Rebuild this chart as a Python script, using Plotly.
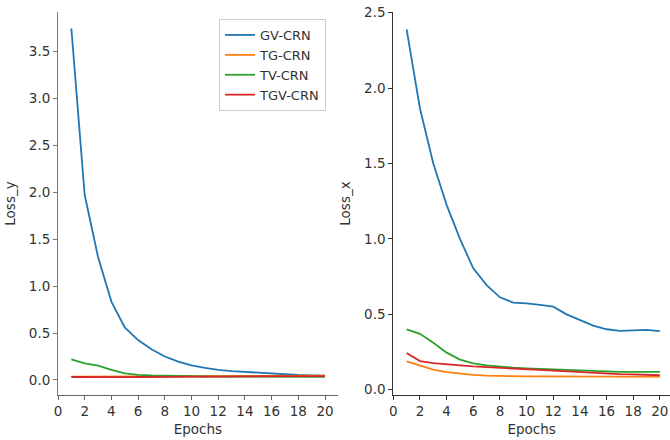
import plotly.graph_objects as go

epochs = list(range(1, 21))
series_names = ["GV-CRN", "TG-CRN", "TV-CRN", "TGV-CRN"]
colors = ["#1f77b4", "#ff7f0e", "#2ca02c", "#d62728"]

loss_y_gv = [3.745, 1.97, 1.31, 0.835, 0.56, 0.425, 0.327, 0.25, 0.195, 0.155,
             0.13, 0.107, 0.095, 0.085, 0.076, 0.068, 0.06, 0.053, 0.048, 0.045]
loss_y_tg = [0.035, 0.034, 0.034, 0.035, 0.036, 0.037, 0.038, 0.039, 0.04, 0.041,
             0.042, 0.042, 0.043, 0.043, 0.044, 0.044, 0.045, 0.045, 0.045, 0.046]
loss_y_tv = [0.22, 0.178, 0.153, 0.107, 0.071, 0.055, 0.048, 0.044, 0.041, 0.039,
             0.037, 0.036, 0.035, 0.034, 0.034, 0.033, 0.033, 0.033, 0.033, 0.033]
loss_y_tgv = [0.032, 0.03, 0.03, 0.03, 0.031, 0.032, 0.033, 0.034, 0.035, 0.036,
              0.037, 0.038, 0.038, 0.039, 0.039, 0.04, 0.04, 0.041, 0.041, 0.041]

loss_x_gv = [2.39, 1.865, 1.50, 1.226, 1.0, 0.805, 0.694, 0.613, 0.578, 0.573,
             0.562, 0.551, 0.50, 0.463, 0.425, 0.401, 0.39, 0.394, 0.397, 0.388]
loss_x_tg = [0.188, 0.162, 0.133, 0.116, 0.105, 0.098, 0.094, 0.091, 0.089, 0.088,
             0.088, 0.087, 0.087, 0.087, 0.087, 0.087, 0.087, 0.087, 0.087, 0.087]
loss_x_tv = [0.40, 0.371, 0.312, 0.246, 0.20, 0.175, 0.162, 0.153, 0.147, 0.142,
             0.138, 0.134, 0.13, 0.126, 0.123, 0.121, 0.119, 0.118, 0.118, 0.118]
loss_x_tgv = [0.243, 0.19, 0.177, 0.168, 0.162, 0.155, 0.151, 0.144, 0.14, 0.135,
              0.131, 0.126, 0.121, 0.115, 0.111, 0.107, 0.104, 0.102, 0.099, 0.096]

left_series = [loss_y_gv, loss_y_tg, loss_y_tv, loss_y_tgv]
right_series = [loss_x_gv, loss_x_tg, loss_x_tv, loss_x_tgv]

FONT = "DejaVu Sans"
fig = go.Figure()
for name, col, ys in zip(series_names, colors, left_series):
    fig.add_trace(go.Scatter(x=epochs, y=ys, mode="lines", name=name,
                             line=dict(color=col, width=1.8),
                             xaxis="x", yaxis="y", showlegend=True))
for name, col, ys in zip(series_names, colors, right_series):
    fig.add_trace(go.Scatter(x=epochs, y=ys, mode="lines", name=name,
                             line=dict(color=col, width=1.8),
                             xaxis="x2", yaxis="y2", showlegend=False))

W, H = 670, 440
ml, mr, mt, mb = 58, 0, 12, 45
pw = W - ml - mr
ph = H - mt - mb
ax_common = dict(showgrid=False, zeroline=False, showline=True, ticks="outside",
                 ticklen=4, tickwidth=1, linewidth=1, ticklabeloverflow="allow",
                 tickfont=dict(family=FONT, size=13.5, color="#333333"))
fig.update_layout(
    width=W, height=H,
    margin=dict(l=ml, r=mr, t=mt, b=mb, autoexpand=False),
    paper_bgcolor="white", plot_bgcolor="white",
    font=dict(family=FONT, size=13.5, color="#333333"),
    xaxis=dict(domain=[0, (337.7 - ml) / pw], range=[0, 20.95],
               tickmode="array", tickvals=list(range(0, 21, 2)),
               title=dict(text="Epochs", standoff=6, font=dict(size=13.5)),
               linecolor="#666666", tickcolor="#666666", anchor="y", **ax_common),
    yaxis=dict(range=[-0.16, 3.92], tickmode="array",
               tickvals=[0, 0.5, 1.0, 1.5, 2.0, 2.5, 3.0, 3.5], tickformat=".1f",
               title=dict(text="Loss_y", standoff=10, font=dict(size=13.5)),
               linecolor="#777777", tickcolor="#777777", anchor="x", **ax_common),
    xaxis2=dict(domain=[(393.3 - ml) / pw, 1], range=[0, 20.76],
                tickmode="array", tickvals=list(range(0, 21, 2)),
                title=dict(text="Epochs", standoff=6, font=dict(size=13.5)),
                linecolor="#333333", tickcolor="#333333", anchor="y2", **ax_common),
    yaxis2=dict(range=[-0.035, 2.505], tickmode="array",
                tickvals=[0, 0.5, 1.0, 1.5, 2.0, 2.5], tickformat=".1f",
                title=dict(text="Loss_x", standoff=10, font=dict(size=13.5)),
                linecolor="#333333", tickcolor="#333333", anchor="x2", **ax_common),
    legend=dict(x=(219 - ml) / pw, y=(395 - 19) / ph,
                xanchor="left", yanchor="top", bgcolor="white",
                bordercolor="#cccccc", borderwidth=1,
                font=dict(family=FONT, size=13, color="#333333"),
                tracegroupgap=0),
)
fig.write_html("out.html",
               config={"displayModeBar": False},
               post_script="document.body.style.margin='0';"
                           "document.body.style.overflow='hidden';")
